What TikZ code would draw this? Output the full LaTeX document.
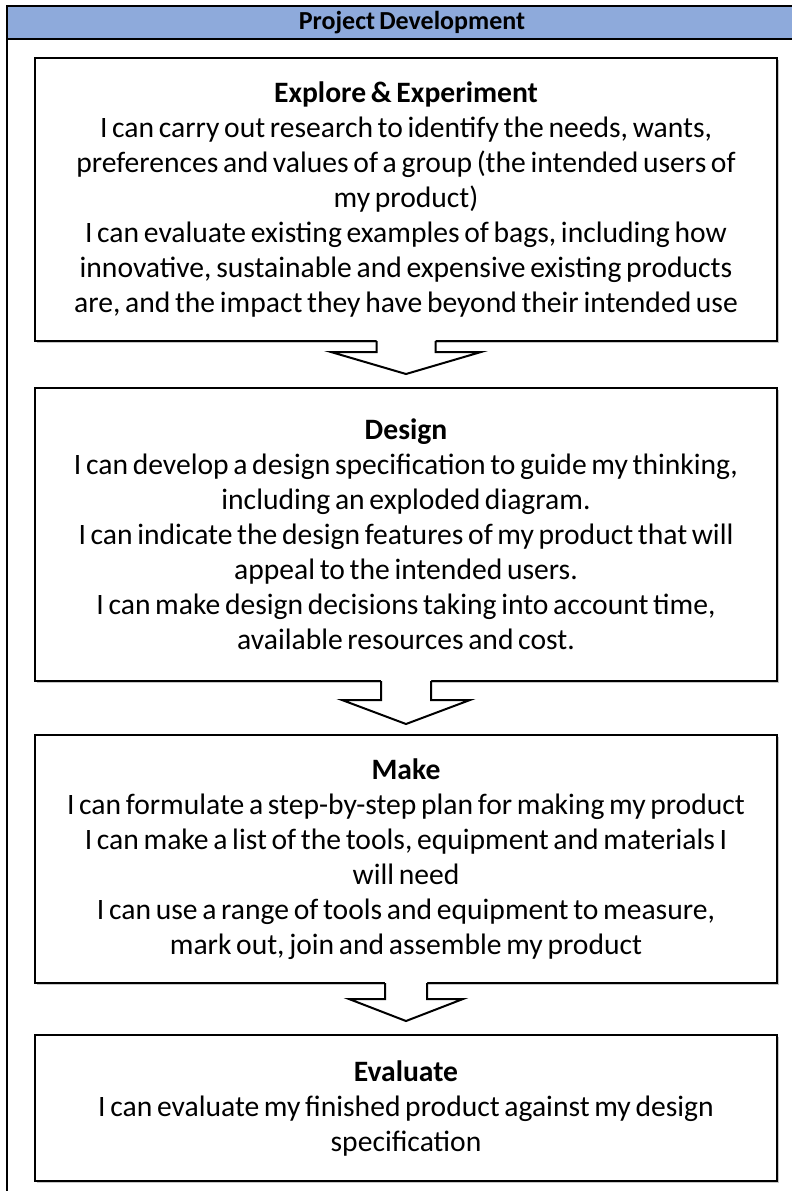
\documentclass[tikz,border=0pt]{standalone}
\usepackage{fontspec}
\setmainfont{Carlito}[WordSpace=0.7]
\usetikzlibrary{calc,shadows}
\definecolor{headblue}{HTML}{8EAADB}

% block arrow from the bottom of one stage down to a tip
\newcommand{\stagearrow}[5]{%
  \fill[white] let \p1=(#1.south), \p2=(#2) in
    (\x2-#3,\y1+1pt) -- (\x2-#3,\y2+#5) -- (\x2-#4,\y2+#5) -- (\p2)
    -- (\x2+#4,\y2+#5) -- (\x2+#3,\y2+#5) -- (\x2+#3,\y1+1pt) -- cycle;
  \draw[flowline] let \p1=(#1.south), \p2=(#2) in
    (\x2-#3,\y1+0.5pt) -- (\x2-#3,\y2+#5) -- (\x2-#4,\y2+#5) -- (\p2)
    -- (\x2+#4,\y2+#5) -- (\x2+#3,\y2+#5) -- (\x2+#3,\y1+0.5pt);
}

\begin{document}
\begin{tikzpicture}[x=0.5pt,y=-0.5pt,line join=miter,
    font=\fontsize{14.8}{17.5}\selectfont,
    frame/.style={line width=0.9pt},
    flowline/.style={line width=1pt},
    stage/.style={draw,line width=1pt,fill=white,minimum width=371pt,
      align=center,inner sep=0pt,
      drop shadow={shadow xshift=0.8pt,shadow yshift=-0.8pt,opacity=0.45}},
    headtext/.style={font=\fontsize{13}{15}\selectfont\bfseries}]
    \useasboundingbox (0,0) rectangle (792,1191);
    
    % header of the table
    \fill[headblue] (7,6) rectangle (792,39);
    \draw[frame] (792,6) -- (7,6) -- (7,1191);
    \draw[frame] (7,39) -- (792,39);
    \node[headtext] (head) at (412,22.5) {Project Development};
    
    % stages
    \node[stage,minimum height=141.5pt] (explore) at (406,199.5) {\textbf{Explore \& Experiment}\\
        I can carry out research to identify the needs, wants,\\
        preferences and values of a group (the intended users of\\
        my product)\\
        I can evaluate existing examples of bags, including how\\
        innovative, sustainable and expensive existing products\\
        are, and the impact they have beyond their intended use};
    \node[stage,minimum height=146.5pt] (design) at (406,534.5) {\textbf{Design}\\
        I can develop a design specification to guide my thinking,\\
        including an exploded diagram.\\
        I can indicate the design features of my product that will\\
        appeal to the intended users.\\
        I can make design decisions taking into account time,\\
        available resources and cost.};
    \node[stage,minimum height=124pt] (make) at (406,859) {\textbf{Make}\\
        I can formulate a step-by-step plan for making my product\\
        I can make a list of the tools, equipment and materials I\\
        will need\\
        I can use a range of tools and equipment to measure,\\
        mark out, join and assemble my product};
    \node[stage,minimum height=73pt] (evaluate) at (406,1108) {\textbf{Evaluate}\\
        I can evaluate my finished product against my design\\
        specification};
    
    % arrows between the stages
    \coordinate (tip1) at ($(design.north)+(0,-13)$);
    \coordinate (tip2) at ($(make.north)+(0,-10)$);
    \coordinate (tip3) at ($(evaluate.north)+(0,-13)$);
    \stagearrow{explore}{tip1}{14.75pt}{37.5pt}{11pt}
    \stagearrow{design}{tip2}{12.5pt}{32pt}{12pt}
    \stagearrow{make}{tip3}{10.5pt}{28.5pt}{11pt}
\end{tikzpicture}
\end{document}
